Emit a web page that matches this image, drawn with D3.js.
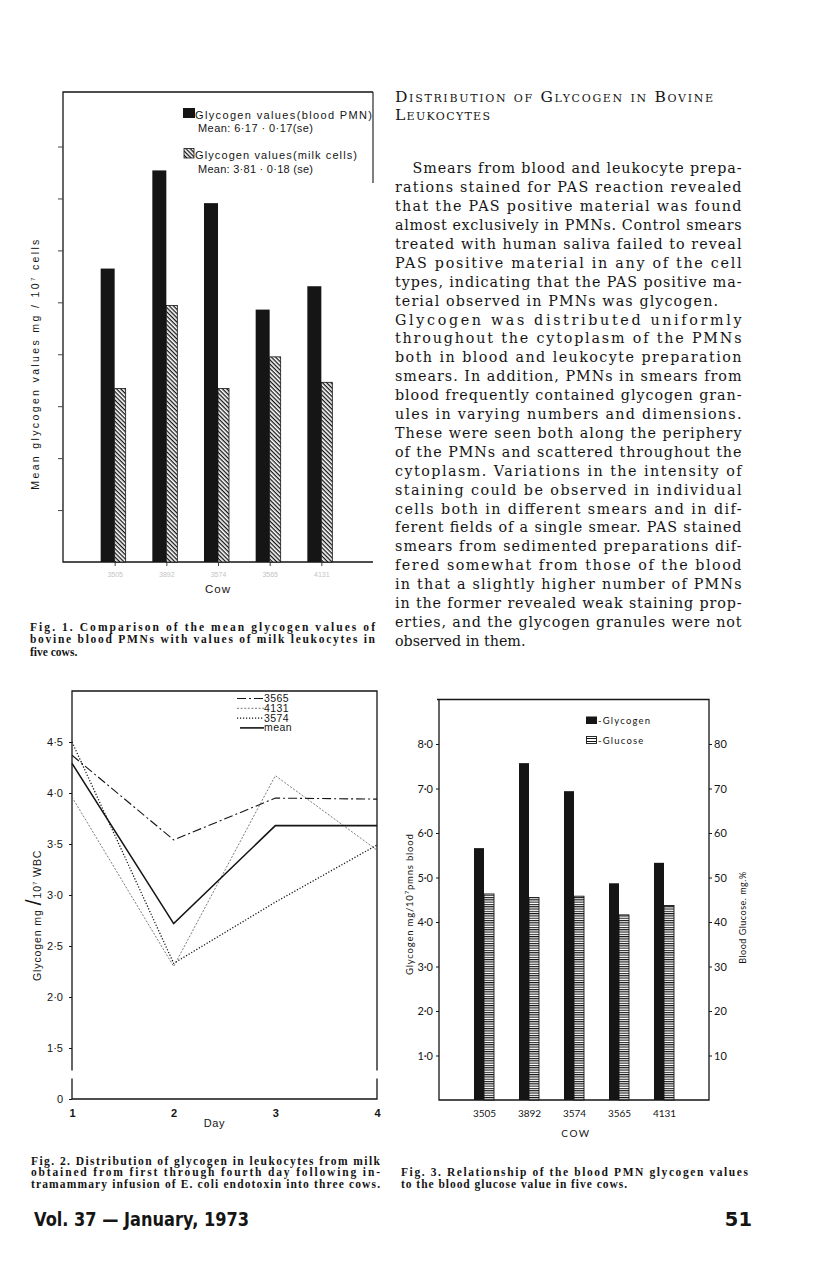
<!DOCTYPE html>
<html>
<head>
<meta charset="utf-8">
<script src="https://cdn.jsdelivr.net/npm/d3@7"></script>
<style>
  body { margin: 0; background: #fff; }
  svg { display: block; }
</style>
</head>
<body>
<script>
// ---- data ----
const cows = ['3505', '3892', '3574', '3565', '4131'];

// Fig 1
const bloodPMN = [5.65, 7.54, 6.91, 4.86, 5.31];
const milkCells = [3.34, 4.94, 3.34, 3.95, 3.46];
const fig1Ticks = [1, 2, 3, 4, 5, 6, 7, 8];

// Fig 2
const days = [1, 2, 3, 4];
const cow3565 = [4.37, 3.54, 3.95, 3.94];
const cow4131 = [3.96, 2.30, 4.17, 3.44];
const cow3574 = [4.50, 2.33, 2.93, 3.49];
const meanDay = [4.29, 2.72, 3.68, 3.68];
const fig2Ticks = [1, 1.5, 2, 2.5, 3, 3.5, 4, 4.5];

// Fig 3
const glycogen = [5.66, 7.57, 6.94, 4.87, 5.33];
const glucose = [46.3, 45.5, 45.8, 41.6, 43.7];
const fig3LeftTicks = [1, 2, 3, 4, 5, 6, 7, 8];
const fig3RightTicks = [10, 20, 30, 40, 50, 60, 70, 80];

// text of the page
const bodyLines = [
  'Smears from blood and leukocyte prepa-',
  'rations stained for PAS reaction revealed',
  'that the PAS positive material was found',
  'almost exclusively in PMNs. Control smears',
  'treated with human saliva failed to reveal',
  'PAS positive material in any of the cell',
  'types, indicating that the PAS positive ma-',
  'terial observed in PMNs was glycogen.',
  'Glycogen was distributed uniformly',
  'throughout the cytoplasm of the PMNs',
  'both in blood and leukocyte preparation',
  'smears. In addition, PMNs in smears from',
  'blood frequently contained glycogen gran-',
  'ules in varying numbers and dimensions.',
  'These were seen both along the periphery',
  'of the PMNs and scattered throughout the',
  'cytoplasm. Variations in the intensity of',
  'staining could be observed in individual',
  'cells both in different smears and in dif-',
  'ferent fields of a single smear. PAS stained',
  'smears from sedimented preparations dif-',
  'fered somewhat from those of the blood',
  'in that a slightly higher number of PMNs',
  'in the former revealed weak staining prop-',
  'erties, and the glycogen granules were not',
  'observed in them.'
];
const fig1Caption = [
  'Fig. 1. Comparison of the mean glycogen values of',
  'bovine blood PMNs with values of milk leukocytes in',
  'five cows.'
];
const fig2Caption = [
  'Fig. 2. Distribution of glycogen in leukocytes from milk',
  'obtained from first through fourth day following in-',
  'tramammary infusion of E. coli endotoxin into three cows.'
];
const fig3Caption = [
  'Fig. 3. Relationship of the blood PMN glycogen values',
  'to the blood glucose value in five cows.'
];

const ink = '#151515';
const sans = 'Liberation Sans, Arial, sans-serif';

const svg = d3.select('body').append('svg')
  .attr('width', 816)
  .attr('height', 1271);
svg.append('rect').attr('width', 816).attr('height', 1271).attr('fill', '#fff');

// hatch patterns
const defs = svg.append('defs');
defs.append('pattern')
  .attr('id', 'diag')
  .attr('patternUnits', 'userSpaceOnUse')
  .attr('width', 3).attr('height', 3)
  .attr('patternTransform', 'rotate(45)')
  .call(p => {
    p.append('rect').attr('width', 3).attr('height', 3).attr('fill', '#fff');
    p.append('rect').attr('width', 3).attr('height', 1.3).attr('fill', ink);
  });
defs.append('pattern')
  .attr('id', 'hlines')
  .attr('patternUnits', 'userSpaceOnUse')
  .attr('width', 4).attr('height', 2.3)
  .call(p => {
    p.append('rect').attr('width', 4).attr('height', 2.3).attr('fill', '#fff');
    p.append('rect').attr('width', 4).attr('height', 1.1).attr('fill', ink);
  });
defs.append('pattern')
  .attr('id', 'hlinesBig')
  .attr('patternUnits', 'userSpaceOnUse')
  .attr('width', 4).attr('height', 3)
  .call(p => {
    p.append('rect').attr('width', 4).attr('height', 3).attr('fill', '#fff');
    p.append('rect').attr('width', 4).attr('height', 1).attr('fill', ink);
  });

// ================= Fig 1 =================
const f1x = d3.scalePoint().domain(cows).range([63, 373]).padding(1);
const f1y = d3.scaleLinear().domain([0, 9.05]).range([562, 92]);

const f1 = svg.append('g');
// frame
f1.append('path')
  .attr('d', `M${f1x.range()[1]},${f1y(9.05)}H${f1x.range()[0]}V${f1y(0)}H${f1x.range()[1]}`)
  .attr('fill', 'none').attr('stroke', ink).attr('stroke-width', 1.3);
f1.append('line')
  .attr('x1', f1x.range()[1]).attr('x2', f1x.range()[1])
  .attr('y1', f1y(9.05)).attr('y2', f1y(7.3))
  .attr('stroke', ink).attr('stroke-width', 1.1);

f1.append('g')
  .attr('transform', `translate(${f1x.range()[0]},0)`)
  .call(d3.axisLeft(f1y).tickValues(fig1Ticks).tickSize(5).tickFormat(''))
  .call(g => g.select('.domain').remove())
  .call(g => g.selectAll('line').attr('stroke', '#444'));

f1.append('g')
  .attr('transform', `translate(0,${f1y(0)})`)
  .call(d3.axisBottom(f1x).tickSize(4).tickPadding(6))
  .call(g => g.select('.domain').remove())
  .call(g => g.selectAll('line').attr('stroke', '#444'))
  .call(g => g.selectAll('text').attr('fill', '#c4c4c4').attr('font-size', 7).attr('font-family', sans));

f1.selectAll('.blood').data(cows).join('rect')
  .attr('x', d => f1x(d) - 14)
  .attr('width', 14)
  .attr('y', (d, i) => f1y(bloodPMN[i]))
  .attr('height', (d, i) => f1y(0) - f1y(bloodPMN[i]))
  .attr('fill', ink);
f1.selectAll('.milk').data(cows).join('rect')
  .attr('x', d => f1x(d))
  .attr('width', 11)
  .attr('y', (d, i) => f1y(milkCells[i]))
  .attr('height', (d, i) => f1y(0) - f1y(milkCells[i]))
  .attr('fill', 'url(#diag)')
  .attr('stroke', ink).attr('stroke-width', 0.8);

// legend
f1.append('rect').attr('x', 183).attr('y', 108).attr('width', 12).attr('height', 10).attr('fill', ink);
f1.append('text').attr('x', 195).attr('y', 118.5).attr('font-family', sans).attr('font-size', 11)
  .attr('textLength', 177).attr('lengthAdjust', 'spacing').attr('fill', ink)
  .text('Glycogen values(blood PMN)');
f1.append('text').attr('x', 198).attr('y', 132).attr('font-family', sans).attr('font-size', 11)
  .attr('textLength', 115).attr('lengthAdjust', 'spacing').attr('fill', ink)
  .text('Mean: 6·17 · 0·17(se)');
f1.append('rect').attr('x', 184).attr('y', 148.5).attr('width', 10).attr('height', 9.5)
  .attr('fill', 'url(#diag)').attr('stroke', ink).attr('stroke-width', 0.8);
f1.append('text').attr('x', 195).attr('y', 158.5).attr('font-family', sans).attr('font-size', 11)
  .attr('textLength', 162).attr('lengthAdjust', 'spacing').attr('fill', ink)
  .text('Glycogen values(milk cells)');
f1.append('text').attr('x', 198).attr('y', 173).attr('font-family', sans).attr('font-size', 11)
  .attr('textLength', 115).attr('lengthAdjust', 'spacing').attr('fill', ink)
  .text('Mean: 3·81 · 0·18 (se)');

// axis titles
f1.append('text')
  .attr('x', d3.mean(f1x.range())).attr('y', 593)
  .attr('text-anchor', 'middle').attr('font-family', sans).attr('font-size', 11.5)
  .attr('letter-spacing', 1).attr('fill', ink).text('Cow');
const f1yl = f1.append('text')
  .attr('transform', `translate(39,${f1y(3.8)}) rotate(-90)`)
  .attr('text-anchor', 'middle').attr('font-family', sans).attr('font-size', 10.5)
  .attr('textLength', 250).attr('lengthAdjust', 'spacing').attr('fill', ink);
f1yl.append('tspan').text('Mean glycogen values  mg / 10');
f1yl.append('tspan').attr('font-size', 6).attr('dy', -4).text('7');
f1yl.append('tspan').attr('dy', 4).text(' cells');

// ================= Fig 2 =================
const f2x = d3.scaleLinear().domain([1, 4]).range([72, 377]);
const f2y = d3.scaleLinear().domain([1, 5]).range([1099, 691]);
const f2 = svg.append('g');

const brk = [f2y(1.28), f2y(1.2)];
f2.append('path')
  .attr('d', `M${f2x(1)},${brk[0]}V${f2y(5)}H${f2x(4)}V${brk[0]}` +
             `M${f2x(1)},${brk[1]}V${f2y(1)}H${f2x(4)}V${brk[1]}`)
  .attr('fill', 'none').attr('stroke', ink).attr('stroke-width', 1.3);

f2.append('g')
  .attr('transform', `translate(${f2x(1)},0)`)
  .call(d3.axisLeft(f2y).tickValues(fig2Ticks).tickSize(3).tickPadding(6)
    .tickFormat(d => d === 1 ? '0' : d3.format('.1f')(d).replace('.', '·')))
  .call(g => g.select('.domain').remove())
  .call(g => g.selectAll('line').attr('stroke', ink))
  .call(g => g.selectAll('text').attr('font-family', sans).attr('font-size', 11).attr('fill', ink));

f2.append('g')
  .attr('transform', `translate(0,${f2y(1)})`)
  .call(d3.axisBottom(f2x).tickValues(days).tickSize(0).tickPadding(10).tickFormat(d3.format('d')))
  .call(g => g.select('.domain').remove())
  .call(g => g.selectAll('text').attr('font-family', sans).attr('font-size', 11).attr('font-weight', 'bold').attr('fill', ink));

f2.append('text').attr('x', f2x(2.4)).attr('y', 1127)
  .attr('text-anchor', 'middle').attr('font-family', sans).attr('font-size', 11)
  .attr('letter-spacing', 0.6).attr('fill', ink).text('Day');

const f2yl = f2.append('text')
  .attr('transform', `translate(41,${f2y(2.8)}) rotate(-90)`)
  .attr('text-anchor', 'middle').attr('font-family', sans).attr('font-size', 10.5)
  .attr('letter-spacing', 0.9).attr('fill', ink);
f2yl.append('tspan').text('Glycogen  mg ');
f2yl.append('tspan').attr('font-size', 22).attr('font-weight', 'lighter').text('/');
f2yl.append('tspan').text('10');
f2yl.append('tspan').attr('font-size', 6).attr('dy', -4).text('7');
f2yl.append('tspan').attr('dy', 4).text(' WBC');

const line2 = d3.line().x((d, i) => f2x(days[i])).y(d => f2y(d));
const series2 = [
  { name: '3565', values: cow3565, dash: '9,3,2,3', color: ink, w: 1.1 },
  { name: '4131', values: cow4131, dash: '2,1.6', color: '#6a6a6a', w: 0.9 },
  { name: '3574', values: cow3574, dash: '1.2,1.8', color: ink, w: 1.3 },
  { name: 'mean', values: meanDay, dash: null, color: ink, w: 1.6 }
];
f2.selectAll('.series').data(series2).join('path')
  .attr('d', d => line2(d.values))
  .attr('fill', 'none')
  .attr('stroke', d => d.color)
  .attr('stroke-width', d => d.w)
  .attr('stroke-dasharray', d => d.dash);

const leg2 = f2.selectAll('.leg2').data(series2).join('g')
  .attr('transform', (d, i) => `translate(237,${702 + i * 9.8})`);
leg2.append('line').attr('x1', d => d.name === 'mean' ? 3 : 0).attr('x2', 27).attr('y1', -3.5).attr('y2', -3.5)
  .attr('stroke', d => d.color).attr('stroke-width', d => d.w).attr('stroke-dasharray', d => d.dash);
leg2.append('text').attr('x', 27).attr('font-family', sans).attr('font-size', 10.5)
  .attr('letter-spacing', 0.4).attr('fill', ink).text(d => d.name);

// ================= Fig 3 =================
const f3x = d3.scalePoint().domain(cows).range([439, 709]).padding(1);
const f3y = d3.scaleLinear().domain([0, 9]).range([1100, 699.5]);
const f3yr = d3.scaleLinear().domain([0, 90]).range([1100, 699.5]);
const f3 = svg.append('g');
const geo = 'Lato, Liberation Sans, sans-serif';

f3.append('path')
  .attr('d', `M${f3x.range()[0]},${f3y(9)}V${f3y(0)}H${f3x.range()[1]}V${f3y(9)}H${f3x.range()[0] - 2}`)
  .attr('fill', 'none').attr('stroke', ink).attr('stroke-width', 1.3);

f3.append('g')
  .attr('transform', `translate(${f3x.range()[0]},0)`)
  .call(d3.axisLeft(f3y).tickValues(fig3LeftTicks).tickSize(3).tickPadding(3)
    .tickFormat(d => d + '·0'))
  .call(g => g.select('.domain').remove())
  .call(g => g.selectAll('line').attr('stroke', ink))
  .call(g => g.selectAll('text').attr('font-family', geo).attr('font-size', 11).attr('fill', ink));

f3.append('g')
  .attr('transform', `translate(${f3x.range()[1]},0)`)
  .call(d3.axisRight(f3yr).tickValues(fig3RightTicks).tickSize(3).tickPadding(2))
  .call(g => g.select('.domain').remove())
  .call(g => g.selectAll('line').attr('stroke', ink))
  .call(g => g.selectAll('text').attr('font-family', geo).attr('font-size', 11).attr('fill', ink));

f3.append('g')
  .attr('transform', `translate(0,${f3y(0)})`)
  .call(d3.axisBottom(f3x).tickSize(0).tickPadding(10))
  .call(g => g.select('.domain').remove())
  .call(g => g.selectAll('text').attr('font-family', geo).attr('font-size', 10).attr('fill', ink));

f3.selectAll('.gly').data(cows).join('rect')
  .attr('x', d => f3x(d) - 10)
  .attr('width', 10)
  .attr('y', (d, i) => f3y(glycogen[i]))
  .attr('height', (d, i) => f3y(0) - f3y(glycogen[i]))
  .attr('fill', ink);
f3.selectAll('.glu').data(cows).join('rect')
  .attr('x', d => f3x(d))
  .attr('width', 10)
  .attr('y', (d, i) => f3yr(glucose[i]))
  .attr('height', (d, i) => f3yr(0) - f3yr(glucose[i]))
  .attr('fill', 'url(#hlines)')
  .attr('stroke', ink).attr('stroke-width', 0.9);

// legend
f3.append('rect').attr('x', 586).attr('y', 716.5).attr('width', 11).attr('height', 7.5).attr('fill', ink);
f3.append('text').attr('x', 598).attr('y', 724).attr('font-family', geo).attr('font-size', 9.5)
  .attr('letter-spacing', 1.2).attr('fill', ink).text('-Glycogen');
f3.append('rect').attr('x', 586.5).attr('y', 736.5).attr('width', 10).attr('height', 7)
  .attr('fill', 'url(#hlinesBig)').attr('stroke', ink).attr('stroke-width', 0.9);
f3.append('text').attr('x', 598).attr('y', 744).attr('font-family', geo).attr('font-size', 9.5)
  .attr('letter-spacing', 1.2).attr('fill', ink).text('-Glucose');

f3.append('text').attr('x', d3.mean(f3x.range()) + 2).attr('y', 1137)
  .attr('text-anchor', 'middle').attr('font-family', geo).attr('font-size', 10)
  .attr('letter-spacing', 1.5).attr('fill', ink).text('COW');

const f3yl = f3.append('text')
  .attr('transform', `translate(413,${f3y(4.4)}) rotate(-90)`)
  .attr('text-anchor', 'middle').attr('font-family', geo).attr('font-size', 9.5)
  .attr('letter-spacing', 0.8).attr('fill', ink);
f3yl.append('tspan').text('Glycogen  mg/10');
f3yl.append('tspan').attr('font-size', 6).attr('dy', -4).text('7');
f3yl.append('tspan').attr('dy', 4).text('pmns  blood');

f3.append('text')
  .attr('transform', `translate(746,${f3y(4.1)}) rotate(-90)`)
  .attr('text-anchor', 'middle').attr('font-family', geo).attr('font-size', 9)
  .attr('letter-spacing', 0.5).attr('fill', ink).text('Blood Glucose. mg.%');

// ================= page text =================
const serif = 'DejaVu Serif, Liberation Serif, serif';
const head = svg.append('g').attr('font-family', serif).attr('fill', ink)
  .attr('font-size', 15.5).style('font-variant', 'small-caps');
head.append('text').attr('x', 395).attr('y', 101.5)
  .attr('textLength', 318).attr('lengthAdjust', 'spacing').text('Distribution of Glycogen in Bovine');
head.append('text').attr('x', 395).attr('y', 119.5)
  .attr('textLength', 95).attr('lengthAdjust', 'spacing').text('Leukocytes');

svg.append('g').attr('font-family', serif).attr('font-size', 14.3).attr('fill', ink)
  .selectAll('text').data(bodyLines).join('text')
  .attr('x', (d, i) => i === 0 ? 412.5 : 395)
  .attr('y', (d, i) => 173.3 + i * 18.9)
  .attr('textLength', (d, i) => i === bodyLines.length - 1 ? null : (i === 0 ? 329 : (i === 7 ? 323 : 346.5)))
  .attr('lengthAdjust', 'spacing')
  .text(d => d);

const capFont = 'Liberation Serif, Times New Roman, serif';
function caption(lines, x, y0, lh, widths) {
  svg.append('g').attr('font-family', capFont).attr('font-size', 11.5)
    .attr('font-weight', 'bold').attr('fill', ink)
    .selectAll('text').data(lines).join('text')
    .attr('x', x)
    .attr('y', (d, i) => y0 + i * lh)
    .attr('textLength', (d, i) => widths[i])
    .attr('lengthAdjust', 'spacing')
    .text(d => d);
}
caption(fig1Caption, 30, 631, 12.4, [345, 345, null]);
caption(fig2Caption, 31, 1164.5, 11.9, [349, 349, 349]);
caption(fig3Caption, 401, 1176, 11.9, [347, 226]);

svg.append('text').attr('x', 34).attr('y', 1226)
  .attr('font-family', 'DejaVu Sans, Liberation Sans, sans-serif').attr('font-weight', 'bold')
  .attr('font-size', 19.5).attr('textLength', 215).attr('lengthAdjust', 'spacingAndGlyphs')
  .attr('fill', ink).text('Vol. 37 — January, 1973');
svg.append('text').attr('x', 752).attr('y', 1226).attr('text-anchor', 'end')
  .attr('font-family', 'DejaVu Sans, Liberation Sans, sans-serif').attr('font-weight', 'bold')
  .attr('font-size', 19.5).attr('fill', ink).text('51');
</script>
</body>
</html>
